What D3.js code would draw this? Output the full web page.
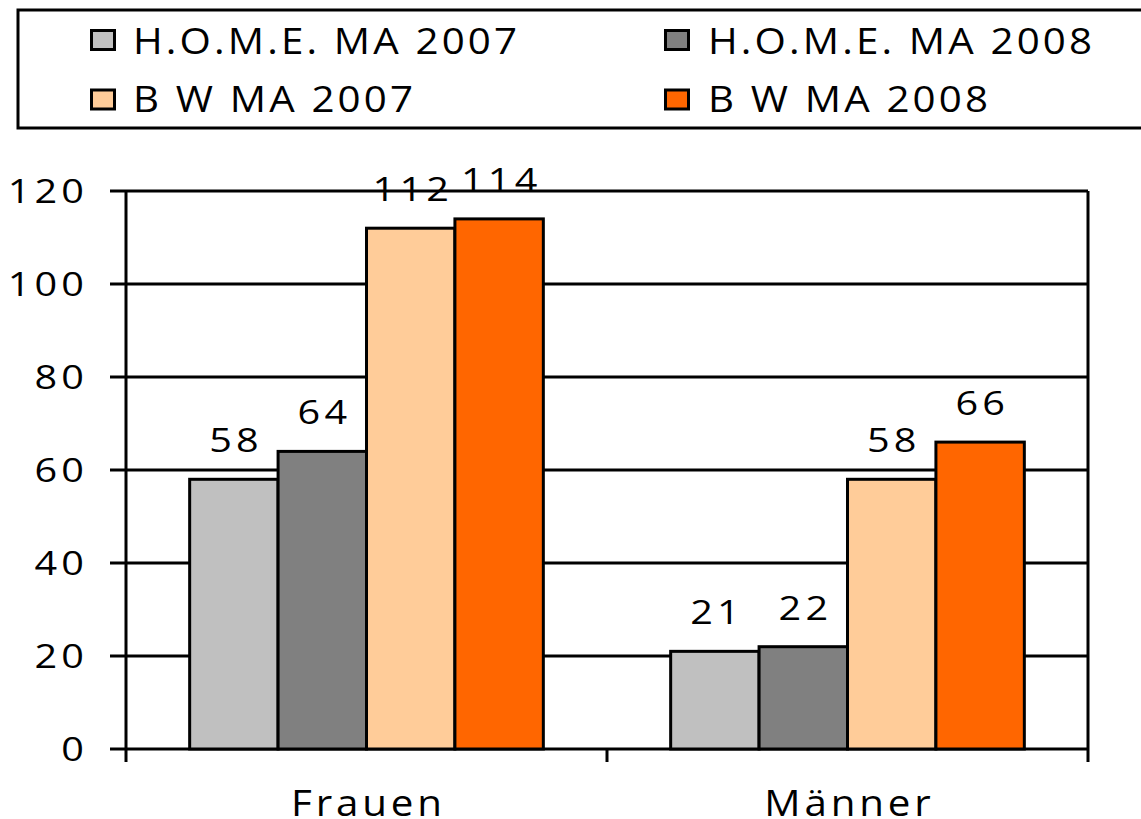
<!DOCTYPE html>
<html>
<head>
<meta charset="utf-8">
<script src="https://cdn.jsdelivr.net/npm/d3@7"></script>
<style>
  body { margin: 0; background: #fff; }
  text { font-family: "Open Sans", "DejaVu Sans", sans-serif; fill: #000; }
</style>
</head>
<body>
<div id="chart"></div>
<script>
// Chart data

const categories = ["Frauen", "Männer"];
const seriesNames = ["H.O.M.E. MA 2007", "H.O.M.E. MA 2008", "B W MA 2007", "B W MA 2008"];
const seriesColors = ["#C0C0C0", "#808080", "#FFCC99", "#FF6600"];
const frauenValues = [58, 64, 112, 114];
const maennerValues = [21, 22, 58, 66];
const yTicks = [0, 20, 40, 60, 80, 100, 120];

const valuesByCategory = { "Frauen": frauenValues, "Männer": maennerValues };

const rows = categories.map(c => ({
  category: c,
  values: seriesNames.map((s, i) => ({ series: s, value: valuesByCategory[c][i], idx: i }))
}));

const W = 1141, H = 819;
const plot = { left: 126, right: 1088, top: 191, bottom: 749 };

// the source text is wide and loosely spaced: stretch a bit + letter spacing
const wordStretch = 1.12, wordSpacing = 3.4, legendSpacing = 2.8;
const numStretch = 1.2, numSpacing = 3.5;

const svg = d3.select("#chart")
  .append("svg")
  .attr("width", W)
  .attr("height", H);

// Scales

const x0 = d3.scaleBand()
  .domain(categories)
  .range([plot.left, plot.right])
  .padding(0);

const x1 = d3.scaleBand()
  .domain(seriesNames)
  .range([0, x0.bandwidth()])
  .paddingInner(0)
  .paddingOuter(0.72);

const y = d3.scaleLinear()
  .domain([0, 120])
  .range([plot.bottom, plot.top]);

// Gridlines + y ticks

svg.append("g")
  .selectAll("line")
  .data(yTicks)
  .join("line")
  .attr("x1", plot.left - 16)
  .attr("x2", plot.right)
  .attr("y1", d => y(d))
  .attr("y2", d => y(d))
  .attr("stroke", "#000")
  .attr("stroke-width", 3);

svg.append("g")
  .selectAll("text")
  .data(yTicks)
  .join("text")
  .attr("transform", d =>
    `translate(${84 + numSpacing * numStretch},${y(d) + 12}) scale(${numStretch},1)`)
  .attr("text-anchor", "end")
  .attr("font-size", 33)
  .attr("letter-spacing", numSpacing)
  .text(d => d);

// Bars

const groups = svg.append("g")
  .selectAll("g")
  .data(rows)
  .join("g")
  .attr("transform", d => `translate(${x0(d.category)},0)`);

groups.selectAll("rect")
  .data(d => d.values)
  .join("rect")
  .attr("x", d => x1(d.series))
  .attr("y", d => y(d.value))
  .attr("width", x1.bandwidth())
  .attr("height", d => y(0) - y(d.value))
  .attr("fill", d => seriesColors[d.idx])
  .attr("stroke", "#000")
  .attr("stroke-width", 3);

groups.selectAll("text")
  .data(d => d.values)
  .join("text")
  .attr("transform", d =>
    `translate(${x1(d.series) + x1.bandwidth() / 2 + numSpacing * numStretch / 2},${y(d.value) - 27}) scale(${numStretch},1)`)
  .attr("text-anchor", "middle")
  .attr("font-size", 33)
  .attr("letter-spacing", numSpacing)
  .text(d => d.value);

// Axes frame

svg.append("line")
  .attr("x1", plot.left).attr("x2", plot.left)
  .attr("y1", plot.top).attr("y2", plot.bottom + 13)
  .attr("stroke", "#000").attr("stroke-width", 3);

svg.append("line")
  .attr("x1", plot.right).attr("x2", plot.right)
  .attr("y1", plot.top).attr("y2", plot.bottom + 13)
  .attr("stroke", "#000").attr("stroke-width", 3);

svg.append("line")
  .attr("x1", x0("Männer")).attr("x2", x0("Männer"))
  .attr("y1", plot.bottom).attr("y2", plot.bottom + 13)
  .attr("stroke", "#000").attr("stroke-width", 3);

// Category labels

svg.append("g")
  .selectAll("text")
  .data(categories)
  .join("text")
  .attr("transform", d =>
    `translate(${x0(d) + x0.bandwidth() / 2 + wordSpacing * wordStretch / 2},816) scale(${wordStretch},1)`)
  .attr("text-anchor", "middle")
  .attr("font-size", 36)
  .attr("letter-spacing", wordSpacing)
  .text(d => d);

// Legend

svg.append("rect")
  .attr("x", 18)
  .attr("y", 10)
  .attr("width", 1140)
  .attr("height", 118)
  .attr("fill", "none")
  .attr("stroke", "#000")
  .attr("stroke-width", 3);

const legendPos = [
  { sx: 91.5, tx: 133, cy: 40, base: 54 },
  { sx: 665.5, tx: 708, cy: 40, base: 54 },
  { sx: 91.5, tx: 133, cy: 99.5, base: 112 },
  { sx: 665.5, tx: 708, cy: 99.5, base: 112 }
];

const legend = svg.append("g")
  .selectAll("g")
  .data(seriesNames)
  .join("g");

legend.append("rect")
  .attr("x", (d, i) => legendPos[i].sx)
  .attr("y", (d, i) => legendPos[i].cy - 9.5)
  .attr("width", 23)
  .attr("height", 19)
  .attr("fill", (d, i) => seriesColors[i])
  .attr("stroke", "#000")
  .attr("stroke-width", 3);

legend.append("text")
  .attr("transform", (d, i) => `translate(${legendPos[i].tx},${legendPos[i].base}) scale(${wordStretch},1)`)
  .attr("font-size", 36)
  .attr("letter-spacing", legendSpacing)
  .text(d => d);
</script>
</body>
</html>
